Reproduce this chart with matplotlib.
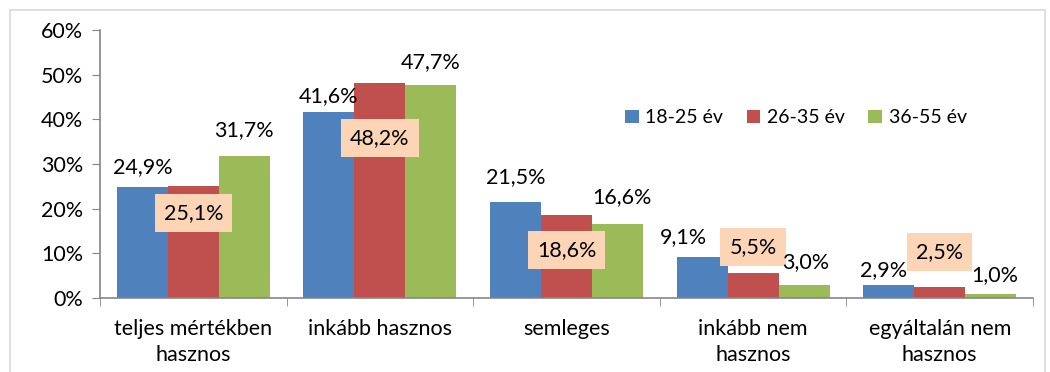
import matplotlib.pyplot as plt
import numpy as np
from matplotlib.patches import Rectangle

plt.rcParams['font.family'] = ['Lato', 'DejaVu Sans']

categories = ["teljes mértékben\nhasznos", "inkább hasznos", "semleges",
              "inkább nem\nhasznos", "egyáltalán nem\nhasznos"]
series = ["18-25 év", "26-35 év", "36-55 év"]
v_18_25 = [24.9, 41.6, 21.5, 9.1, 2.9]
v_26_35 = [25.1, 48.2, 18.6, 5.5, 2.5]
v_36_55 = [31.7, 47.7, 16.6, 3.0, 1.0]
values = [v_18_25, v_26_35, v_36_55]
colors = ["#4F81BD", "#C0504D", "#9BBB59"]

# label placement (y in %), the middle series sits in boxes
label_y = [
    [29.3, 45.3, 27.1, 13.7, 6.3],
    [19.0, 35.8, 10.7, 11.4, 10.3],
    [37.6, 52.8, 22.6, 8.1, 5.1],
]
label_dx = [
    [0, 0, 0, -0.1, -0.03],
    [0, 0, 0, 0, 0],
    [0, 0, 0.025, 0.01, 0.02],
]

FS = 15.5

fig = plt.figure(figsize=(10.5, 3.72), dpi=100)
fig.patches.append(Rectangle((10 / 1050, -0.1), 1035 / 1050, 1.1 - 10 / 372,
                             transform=fig.transFigure, fill=False,
                             edgecolor="#D9D9D9", linewidth=1.2))
ax = fig.add_axes([100 / 1050, 1 - 298 / 372, 933 / 1050, 268 / 372])

x = np.arange(len(categories))
w = 0.273
for i, (vals, col) in enumerate(zip(values, colors)):
    pos = x + (i - 1) * w
    ax.bar(pos, vals, width=w, color=col, label=series[i])
    for j, v in enumerate(vals):
        txt = f"{v:.1f}%".replace(".", ",")
        kw = dict(ha="center", va="center", fontsize=FS, color="black")
        if i == 1:
            kw["bbox"] = dict(boxstyle="square,pad=0.42", facecolor="#FBD5B5",
                              edgecolor="none")
        ax.text(pos[j] + label_dx[i][j], label_y[i][j], txt, **kw)

ax.set_xlim(-0.5, len(categories) - 0.5)
ax.set_ylim(0, 60)
ax.set_yticks(np.arange(0, 61, 10))
ax.set_yticklabels([f"{t}%" for t in range(0, 61, 10)], fontsize=FS)
ax.set_xticks(x)
ax.set_xticklabels(categories, fontsize=FS, linespacing=1.4)
ax.set_xticks(np.arange(-0.5, len(categories)), minor=True)
ax.tick_params(axis="x", which="major", length=0, pad=15)
ax.tick_params(axis="x", which="minor", length=6, color="#868686", direction="out")
ax.tick_params(axis="y", length=6, color="#868686", pad=6)

for s in ["top", "right"]:
    ax.spines[s].set_visible(False)
for s in ["left", "bottom"]:
    ax.spines[s].set_color("#868686")
    ax.spines[s].set_linewidth(1.2)

ax.legend(loc="center", bbox_to_anchor=(0.746, 0.672), ncol=3, frameon=False,
          fontsize=14, handlelength=0.7, handleheight=0.7, handletextpad=0.35,
          columnspacing=1.2)

fig.savefig("out.png", dpi=100)
